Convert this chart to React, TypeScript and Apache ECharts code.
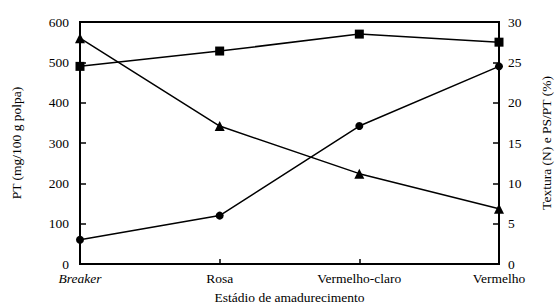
import React, { useEffect, useRef } from "react";
import * as echarts from "echarts";

const categories = ["Breaker", "Rosa", "Vermelho-claro", "Vermelho"];
const ptValues = [490, 528, 570, 550];
const texturaValues = [28, 17.1, 11.2, 6.85];
const psptValues = [3, 6, 17.1, 24.5];
const leftTicks = [0, 600, 100];
const rightTicks = [0, 30, 5];

const font = "'Liberation Serif', 'Times New Roman', serif";
const fs = 13.5;

export default function App() {
  const ref = useRef<HTMLDivElement>(null);
  useEffect(() => {
    if (!ref.current) return;
    const chart = echarts.init(ref.current, null, { renderer: "svg" });
    const lineStyle = { color: "#000", width: 1.5 };
    chart.setOption({
      animation: false,
      backgroundColor: "#fff",
      textStyle: { fontFamily: font, color: "#000" },
      grid: {
        left: 80,
        right: 56,
        top: 22,
        bottom: 40,
        show: true,
        borderColor: "#000",
        borderWidth: 2,
        containLabel: false,
        outerBoundsMode: "none",
      },
      xAxis: {
        type: "category",
        data: categories,
        boundaryGap: false,
        axisLine: { lineStyle: { color: "#000", width: 2 } },
        axisTick: { inside: true, length: 5, lineStyle: { color: "#000", width: 1.5 } },
        axisLabel: {
          color: "#000",
          fontFamily: font,
          fontSize: fs,
          lineHeight: 12,
          margin: 8,
          formatter: (v: string) => (v === "Breaker" ? "{i|" + v + "}" : v),
          rich: { i: { fontStyle: "italic", fontFamily: font, fontSize: fs, lineHeight: 12, color: "#000" } },
        },
        name: "Estádio de amadurecimento",
        nameLocation: "middle",
        nameGap: 27,
        nameTextStyle: { fontFamily: font, fontSize: fs, lineHeight: 13, color: "#000" },
      },
      yAxis: [
        {
          type: "value",
          min: leftTicks[0],
          max: leftTicks[1],
          interval: leftTicks[2],
          position: "left",
          splitLine: { show: false },
          axisLine: { show: true, lineStyle: { color: "#000", width: 2 } },
          axisTick: { show: true, inside: true, length: 6, lineStyle: { color: "#000", width: 1.5 } },
          axisLabel: { color: "#000", fontFamily: font, fontSize: fs, lineHeight: 12, margin: 11 },
          name: "PT (mg/100 g polpa)",
          nameLocation: "middle",
          nameRotate: 90,
          nameGap: 57,
          nameTextStyle: { fontFamily: font, fontSize: fs, lineHeight: 13, color: "#000" },
        },
        {
          type: "value",
          min: rightTicks[0],
          max: rightTicks[1],
          interval: rightTicks[2],
          position: "right",
          splitLine: { show: false },
          axisLine: { show: true, lineStyle: { color: "#000", width: 2 } },
          axisTick: { show: true, inside: true, length: 6, lineStyle: { color: "#000", width: 1.5 } },
          axisLabel: { color: "#000", fontFamily: font, fontSize: fs, lineHeight: 12, margin: 9 },
          name: "Textura (N) e PS/PT (%)",
          nameLocation: "middle",
          nameRotate: 90,
          nameGap: 41,
          nameTextStyle: { fontFamily: font, fontSize: fs, lineHeight: 13, color: "#000" },
        },
      ],
      series: [
        {
          type: "line",
          name: "PT",
          yAxisIndex: 0,
          data: ptValues,
          symbol: "rect",
          symbolSize: 9,
          lineStyle,
          itemStyle: { color: "#000" },
        },
        {
          type: "line",
          name: "Textura",
          yAxisIndex: 1,
          data: texturaValues,
          symbol: "triangle",
          symbolSize: 10,
          lineStyle,
          itemStyle: { color: "#000" },
        },
        {
          type: "line",
          name: "PS/PT",
          yAxisIndex: 1,
          data: psptValues,
          symbol: "circle",
          symbolSize: 8,
          lineStyle,
          itemStyle: { color: "#000" },
        },
      ],
    });
    return () => chart.dispose();
  }, []);
  return (
    <div
      ref={ref}
      style={{ position: "fixed", left: 0, top: 0, width: 555, height: 304 }}
    />
  );
}
